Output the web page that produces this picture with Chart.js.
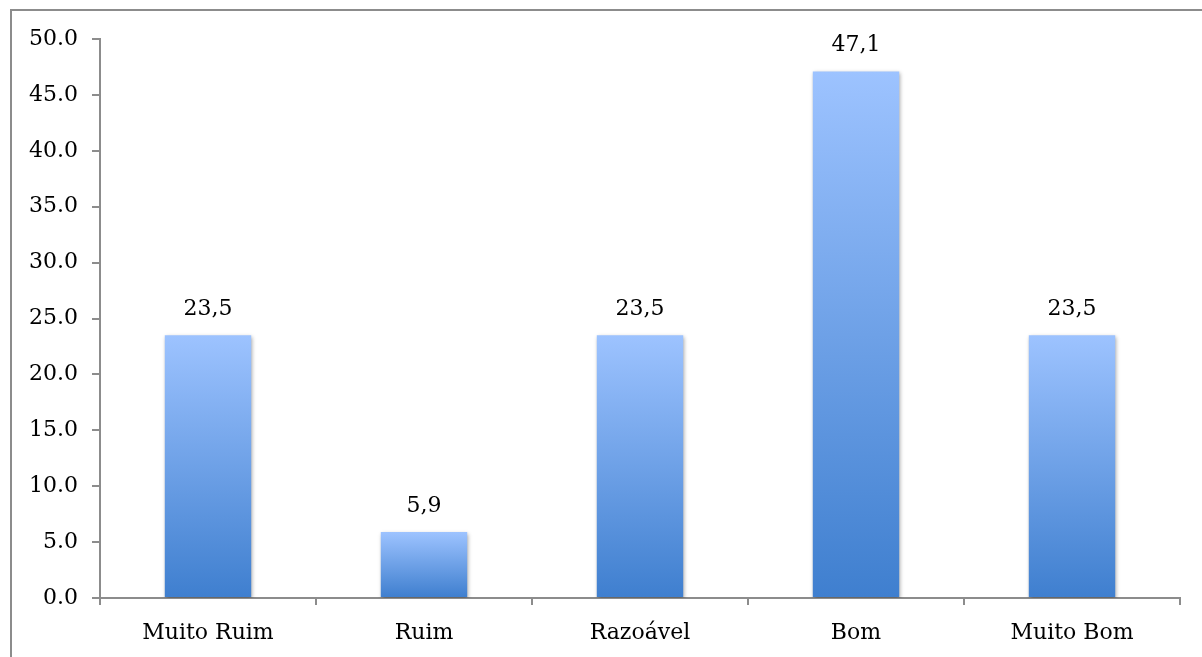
<!DOCTYPE html>
<html>
<head>
<meta charset="utf-8">
<script src="https://cdn.jsdelivr.net/npm/chart.js@4/dist/chart.umd.min.js"></script>
<style>
  html, body { margin: 0; padding: 0; background: #ffffff; }
  #wrap { position: relative; width: 1202px; height: 657px; }
</style>
</head>
<body>
<div id="wrap"><canvas id="chart" width="1202" height="657"></canvas></div>
<script>
const categories = ['Muito Ruim', 'Ruim', 'Razoável', 'Bom', 'Muito Bom'];
const percentages = [23.5, 5.9, 23.5, 47.1, 23.5];
const yTicks = [0, 5, 10, 15, 20, 25, 30, 35, 40, 45, 50];

const FONT = 'DejaVu Serif, serif';
const FONT_SIZE = 22;
const AXIS_GREY = '#8c8c8c';

// Outer frame along the top and left edges of the figure
const framePlugin = {
  id: 'frame',
  beforeDraw(chart) {
    const ctx = chart.ctx;
    ctx.save();
    ctx.strokeStyle = AXIS_GREY;
    ctx.lineWidth = 2;
    ctx.beginPath();
    ctx.moveTo(11, chart.height);
    ctx.lineTo(11, 10);
    ctx.lineTo(chart.width, 10);
    ctx.stroke();
    ctx.restore();
  }
};

// Vertical gradient per bar (light on top, deeper blue at the base) plus a soft drop shadow
const barStylePlugin = {
  id: 'barStyle',
  beforeDatasetsDraw(chart) {
    const ctx = chart.ctx;
    chart.getDatasetMeta(0).data.forEach(bar => {
      const g = ctx.createLinearGradient(0, bar.y, 0, bar.base);
      g.addColorStop(0, '#9dc3ff');
      g.addColorStop(1, '#3f7fcf');
      bar.options.backgroundColor = g;
    });
    ctx.save();
    ctx.shadowColor = 'rgba(0,0,0,0.35)';
    ctx.shadowBlur = 4;
    ctx.shadowOffsetX = 1;
    ctx.shadowOffsetY = 2;
  },
  afterDatasetsDraw(chart) {
    chart.ctx.restore();
  }
};

// Value labels above each bar, written with a decimal comma
const valueLabelPlugin = {
  id: 'valueLabels',
  afterDatasetsDraw(chart) {
    const ctx = chart.ctx;
    const ds = chart.data.datasets[0];
    ctx.save();
    ctx.fillStyle = '#000000';
    ctx.font = FONT_SIZE + 'px ' + FONT;
    ctx.textAlign = 'center';
    ctx.textBaseline = 'alphabetic';
    chart.getDatasetMeta(0).data.forEach((bar, i) => {
      const txt = ds.data[i].toFixed(1).replace('.', ',');
      ctx.fillText(txt, bar.x, bar.y - 20);
    });
    ctx.restore();
  }
};

new Chart(document.getElementById('chart'), {
  type: 'bar',
  data: {
    labels: categories,
    datasets: [{
      data: percentages,
      // scriptable so each bar keeps its own options object (own gradient)
      backgroundColor: () => '#6a9fe6',
      borderWidth: 0,
      barPercentage: 0.4,
      categoryPercentage: 1.0
    }]
  },
  options: {
    responsive: false,
    animation: false,
    devicePixelRatio: 1,
    layout: { padding: { top: 39, right: 22, bottom: 0, left: 0 } },
    plugins: {
      legend: { display: false },
      tooltip: { enabled: false }
    },
    scales: {
      x: {
        offset: true,
        grid: {
          offset: true,
          drawOnChartArea: false,
          drawTicks: true,
          tickLength: 7,
          color: AXIS_GREY,
          lineWidth: 2
        },
        border: { display: true, color: AXIS_GREY, width: 2 },
        ticks: {
          color: '#000000',
          font: { family: FONT, size: FONT_SIZE },
          padding: 15,
          maxRotation: 0
        },
        afterFit(scale) { scale.height = 59; }
      },
      y: {
        min: 0,
        max: 50,
        afterBuildTicks(scale) { scale.ticks = yTicks.map(v => ({ value: v })); },
        grid: {
          drawOnChartArea: false,
          drawTicks: true,
          tickLength: 8,
          color: AXIS_GREY,
          lineWidth: 2
        },
        border: { display: true, color: AXIS_GREY, width: 2 },
        ticks: {
          color: '#000000',
          font: { family: FONT, size: FONT_SIZE },
          padding: 14,
          callback: v => Number(v).toFixed(1)
        },
        afterFit(scale) { scale.width = 100; }
      }
    }
  },
  plugins: [framePlugin, barStylePlugin, valueLabelPlugin]
});
</script>
</body>
</html>
